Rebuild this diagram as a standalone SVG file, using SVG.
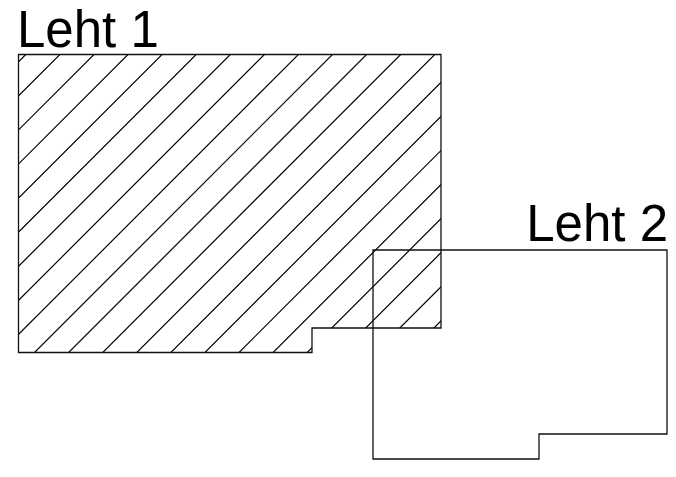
<svg xmlns="http://www.w3.org/2000/svg" width="676" height="477" viewBox="0 0 676 477">
<defs>
<style>
.lbl{font-family:"Liberation Sans",Arial,sans-serif;font-size:51px;fill:#000}
.outline{fill:none;stroke:#111;stroke-width:1.3}
.hatch{stroke:#000;stroke-width:1.2;fill:none}
</style>
<clipPath id="c1"><polygon points="18.5,54.5 441,54.5 441,328 312,328 312,352.5 18.5,352.5"/></clipPath>
</defs>
<rect width="676" height="477" fill="#fff"/>
<g id="sheet1">
<g class="hatch" clip-path="url(#c1)">
<path d="M0,80.3 L80.3,0 M0,114.4 L114.4,0 M0,148.5 L148.5,0 M0,182.5 L182.5,0 M0,216.6 L216.6,0 M0,250.7 L250.7,0 M0,284.8 L284.8,0 M0,318.9 L318.9,0 M0,352.9 L352.9,0 M0,387 L387,0 M0,421.1 L421.1,0 M0,455.2 L455.2,0 M0,489.3 L489.3,0 M0,523.3 L523.3,0 M0,557.4 L557.4,0 M0,591.5 L591.5,0 M0,625.6 L625.6,0 M0,659.7 L659.7,0 M0,693.7 L693.7,0 M0,727.8 L727.8,0 M0,761.9 L761.9,0"/>
</g>
<polygon class="outline" points="18.5,54.5 441,54.5 441,328 312,328 312,352.5 18.5,352.5"/>
<text class="lbl" x="17" y="47">Leht 1</text>
</g>
<g id="sheet2">
<polygon class="outline" points="373,250 667,250 667,434 539,434 539,459 373,459"/>
<text class="lbl" x="668" y="241" text-anchor="end">Leht 2</text>
</g>
</svg>
